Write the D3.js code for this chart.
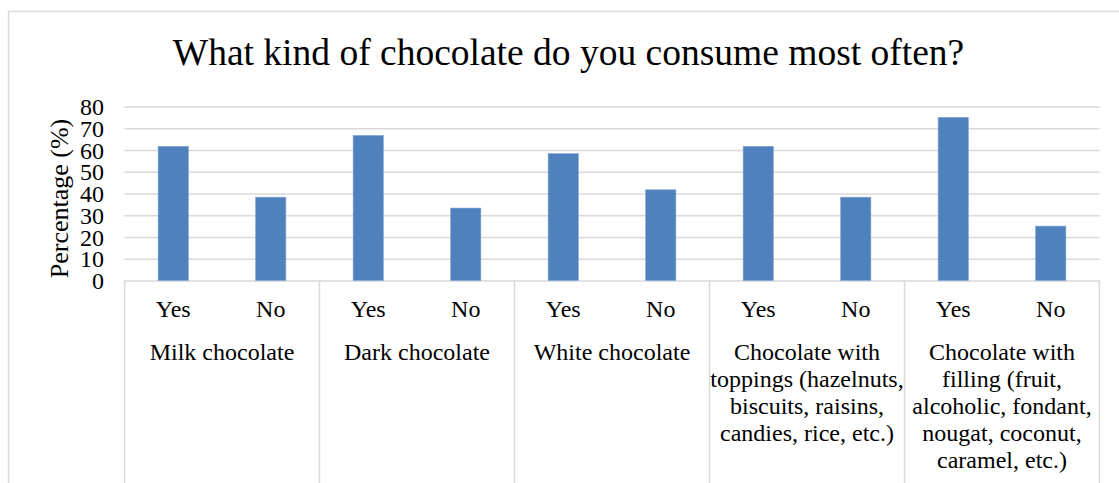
<!DOCTYPE html>
<html>
<head>
<meta charset="utf-8">
<script src="https://cdn.jsdelivr.net/npm/d3@7"></script>
<style>
  html, body { margin: 0; padding: 0; background: #fff; }
  svg { display: block; }
  text { font-family: "Liberation Serif", "Times New Roman", serif; fill: #000; }
</style>
</head>
<body>
<svg id="chart" width="1119" height="483"></svg>
<script>
// ---- data ----
const categories = [
  "Milk chocolate",
  "Dark chocolate",
  "White chocolate",
  "Chocolate with\ntoppings (hazelnuts,\nbiscuits, raisins,\ncandies, rice, etc.)",
  "Chocolate with\nfilling (fruit,\nalcoholic, fondant,\nnougat, coconut,\ncaramel, etc.)"
];
const answers = ["Yes", "No"];
const yesValues = [61.7, 66.7, 58.3, 61.7, 75.0];
const noValues  = [38.3, 33.3, 41.7, 38.3, 25.0];
const yTicks = [0, 10, 20, 30, 40, 50, 60, 70, 80];
const titleText = "What kind of chocolate do you consume most often?";
const yAxisTitle = "Percentage (%)";

// ---- layout ----
const W = 1119, H = 483;
const plot = { left: 124.5, right: 1099.5, top: 106.5, bottom: 280.5 };
const svg = d3.select("#chart");

// outer chart border (cropped by image)
svg.append("rect")
  .attr("x", 8.5).attr("y", 11.5)
  .attr("width", 1300).attr("height", 700)
  .attr("fill", "none").attr("stroke", "#d9d9d9").attr("stroke-width", 1.5);

// title
svg.append("text")
  .attr("x", 568.5).attr("y", 65)
  .attr("text-anchor", "middle")
  .style("font-size", "37.5px")
  .text(titleText);

const rows = [];
categories.forEach((c, i) => {
  rows.push({ cat: c, ans: "Yes", v: yesValues[i] });
  rows.push({ cat: c, ans: "No", v: noValues[i] });
});

const x0 = d3.scaleBand().domain(categories).range([plot.left, plot.right]).padding(0);
const x1 = d3.scaleBand().domain(answers).range([0, x0.bandwidth()]).padding(0);
const y = d3.scaleLinear().domain([0, 80]).range([plot.bottom, plot.top]);

// gridlines + tick labels
const yAxis = d3.axisLeft(y).tickValues(yTicks).tickSize(-(plot.right - plot.left)).tickPadding(20);
const gy = svg.append("g").attr("transform", `translate(${plot.left},0)`).call(yAxis);
gy.select(".domain").remove();
gy.selectAll(".tick line").attr("stroke", "#d9d9d9").attr("stroke-width", 1.5);
gy.selectAll(".tick text")
  .style("font-size", "24px")
  .attr("x", -20.5)
  .attr("dy", "0.34em");

// bars
const barW = x1.bandwidth() * 0.31;
svg.append("g").selectAll("rect").data(rows).join("rect")
  .attr("x", d => x0(d.cat) + x1(d.ans) + x1.bandwidth() / 2 - barW / 2)
  .attr("y", d => y(d.v))
  .attr("width", barW)
  .attr("height", d => y(0) - y(d.v))
  .attr("fill", "#4f81bd")
  .attr("stroke", "#7ea3d3")
  .attr("stroke-width", 0.6);

// category separators
const seps = categories.map(c => x0(c)).concat([plot.right]);
svg.append("g").selectAll("line").data(seps).join("line")
  .attr("x1", d => d).attr("x2", d => d)
  .attr("y1", plot.bottom).attr("y2", H)
  .attr("stroke", "#d9d9d9").attr("stroke-width", 1.5);

// Yes / No labels
svg.append("g").selectAll("text").data(rows).join("text")
  .attr("x", d => x0(d.cat) + x1(d.ans) + x1.bandwidth() / 2)
  .attr("y", 317)
  .attr("text-anchor", "middle")
  .style("font-size", "24px")
  .text(d => d.ans);

// category labels
const catG = svg.append("g").selectAll("text").data(categories).join("text")
  .attr("x", d => x0(d) + x0.bandwidth() / 2)
  .attr("y", 360)
  .attr("text-anchor", "middle")
  .style("font-size", "24px");
catG.each(function(d) {
  const t = d3.select(this);
  d.split("\n").forEach((line, i) => {
    t.append("tspan")
      .attr("x", x0(d) + x0.bandwidth() / 2)
      .attr("y", 360 + i * 27)
      .text(line);
  });
});

// y axis title
svg.append("text")
  .attr("transform", `translate(68, ${(plot.top + plot.bottom) / 2 + 5}) rotate(-90)`)
  .attr("text-anchor", "middle")
  .style("font-size", "26px")
  .text(yAxisTitle);
</script>
</body>
</html>
